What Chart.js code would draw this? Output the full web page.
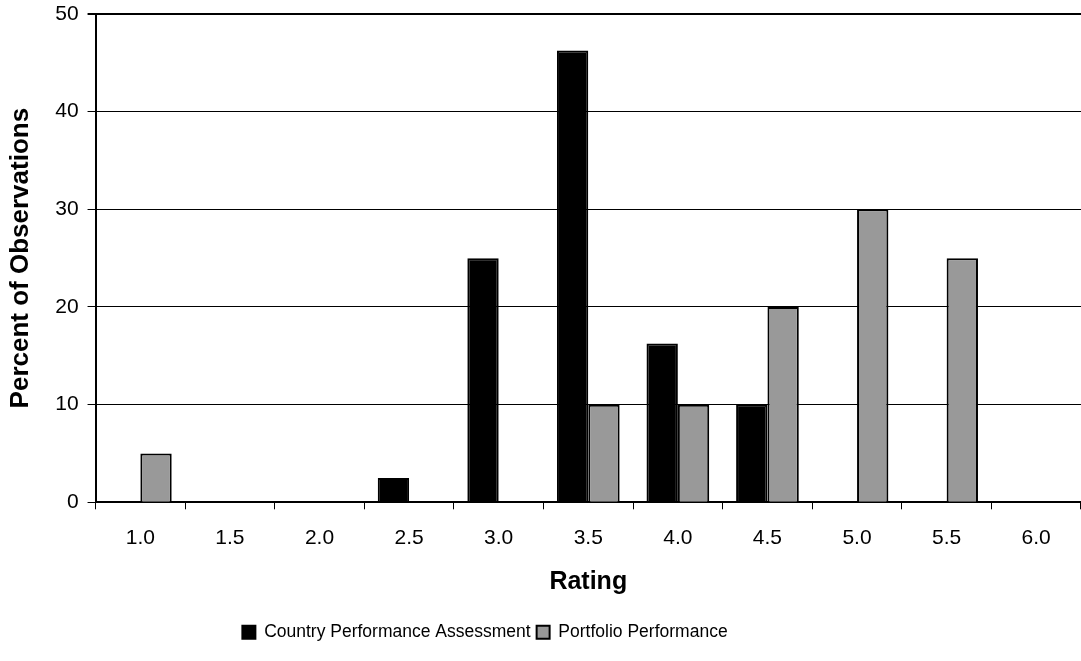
<!DOCTYPE html>
<html><head><meta charset="utf-8">
<script src="https://cdn.jsdelivr.net/npm/chart.js@4/dist/chart.umd.min.js"></script>
<style>html,body{margin:0;padding:0;background:#fff}#wrap{width:1081px;height:661px}</style>
</head><body><div id="wrap"><canvas id="c" width="1081" height="661"></canvas></div>
<script>
const categories = ["1.0","1.5","2.0","2.5","3.0","3.5","4.0","4.5","5.0","5.5","6.0"];
const cpaValues = [0,0,0,2.5,25,46.25,16.25,10,0,0,0];
const portfolioValues = [5,0,0,0,0,10,10,20,30,25,0];
const yTicks = [0,10,20,30,40,50];

Chart.defaults.font.family = "'Liberation Sans', Arial, sans-serif";
Chart.defaults.color = "#000";

const legendShift = {
  id: 'legendShift',
  afterLayout(chart) {
    const lg = chart.legend;
    if (lg) { lg.left -= 112; }
  }
};

new Chart(document.getElementById('c'), {
  type: 'bar',
  data: {
    labels: categories,
    datasets: [
      {label: 'Country Performance Assessment', data: cpaValues, backgroundColor: '#000', borderColor: '#000', borderWidth: 2},
      {label: 'Portfolio Performance', data: portfolioValues, backgroundColor: '#999999', borderColor: '#000', borderWidth: 2}
    ]
  },
  plugins: [legendShift],
  options: {
    responsive: false,
    animation: false,
    datasets: {bar: {categoryPercentage: 0.7, barPercentage: 1}},
    layout: {padding: {top: 14, right: 0, left: 1, bottom: 10}},
    plugins: {
      tooltip: {enabled: false},
      legend: {
        position: 'bottom',
        labels: {boxWidth: 13, boxHeight: 13, padding: 6, font: {size: 17.5}, color: '#000'}
      }
    },
    scales: {
      x: {
        grid: {drawOnChartArea: false, drawTicks: true, tickLength: 7, color: '#000', lineWidth: 1, offset: true},
        border: {display: true, color: '#000', width: 2},
        ticks: {font: {size: 21}, color: '#000', padding: 16},
        title: {display: true, text: 'Rating', font: {size: 25, weight: 'bold'}, color: '#000', padding: {top: 1, bottom: 20}}
      },
      y: {
        min: 0, max: 50,
        afterBuildTicks: (axis) => { axis.ticks = yTicks.map(v => ({value: v})); },
        afterFit: (s) => { s.paddingTop = 0; },
        grid: {color: '#000', lineWidth: (ctx) => (ctx.tick && ctx.tick.value === 50 ? 2 : 1), drawTicks: true, tickLength: 8},
        border: {display: true, color: '#000', width: 2},
        ticks: {font: {size: 21}, color: '#000', padding: 9},
        title: {display: true, text: 'Percent of Observations', font: {size: 26, weight: 'bold'}, color: '#000', padding: {bottom: 10}}
      }
    }
  }
});
</script></body></html>
